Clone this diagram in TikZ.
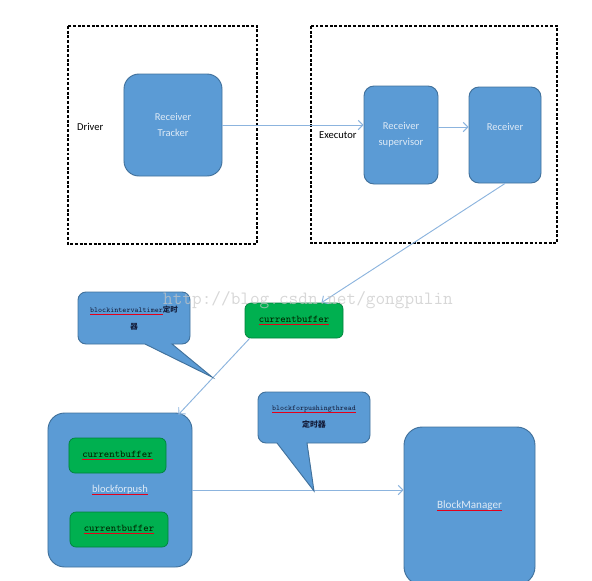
\documentclass[tikz,border=0pt]{standalone}
\usepackage{fontspec}
\setmainfont{Carlito}
\newfontfamily\cjk{Noto Sans CJK SC}
\usepackage{tikz}
\usetikzlibrary{calc, positioning, arrows.meta}
\definecolor{boxBlue}{RGB}{91, 155, 213}
\definecolor{boxEdge}{RGB}{65, 113, 156}
\definecolor{bufGreen}{RGB}{0, 176, 80}
\definecolor{bufEdge}{RGB}{0, 130, 60}
\definecolor{linkBlue}{RGB}{140, 180, 222}
\definecolor{labelLight}{RGB}{222, 234, 246}
\definecolor{noteText}{RGB}{20, 30, 60}
\newsavebox{\spellbox}
\newcommand{\spell}[1]{\sbox{\spellbox}{#1}%
  \rlap{\color{red!60!purple}\rule[-1.6pt]{\wd\spellbox}{0.3pt}}\usebox{\spellbox}}

\begin{document}
\begin{tikzpicture}[x=0.03cm, y=-0.03cm, >={Straight Barb[length=4pt, width=8pt]},
  font=\fontsize{9}{13.6}\selectfont,
  block/.style={draw=boxEdge, line width=0.8pt, fill=boxBlue, rounded corners=0.3cm,
    text=labelLight, align=center, inner sep=0pt},
  buffer/.style={draw=bufEdge, line width=0.6pt, fill=bufGreen, rounded corners=0.18cm,
    minimum width=2.94cm, minimum height=1.05cm, text=black!85!green,
    font=\ttfamily\fontsize{8.8}{10}\selectfont},
  region/.style={draw=black, line width=0.9pt, dash pattern=on 2.5pt off 1.5pt},
  note/.style={draw=boxEdge, line width=0.8pt, fill=boxBlue},
  notetext/.style={text=noteText, align=center, font=\fontsize{6.5}{14.5}\selectfont},
  link/.style={->, linkBlue, line width=0.8pt}]

  \useasboundingbox (0,0) rectangle (592,580);
  \clip (0,0) rectangle (592,580);

  % Driver and Executor regions
  \draw[region] (68,26) rectangle (257,244);
  \draw[region] (311,26) rectangle (557,243);
  \node[anchor=west] (driver) at (73,127) {Driver};
  \node[anchor=west] (executor) at (315,135) {Executor};

  \node[block, rounded corners=0.45cm, minimum width=2.94cm, minimum height=3.06cm] (tracker) at (173,125) {Receiver\\Tracker};
  \node[block, minimum width=2.22cm, minimum height=2.94cm] (sup) at (401,135) {Receiver\\supervisor};
  \node[block, minimum width=2.16cm, minimum height=2.88cm] (recv) at (505,135) {};
  \node[text=labelLight] (recvtxt) at (505,127) {Receiver};

  % buffers and blocks
  \node[buffer] (buf) at (294,320.5) {\spell{currentbuffer}};
  \node[block, rounded corners=0.5cm, minimum width=4.32cm, minimum height=4.62cm] (bfp) at (120,490) {\spell{blockforpush}};
  \node[buffer, minimum width=2.91cm] (bufA) at (117.5,455.5) {\spell{currentbuffer}};
  \node[buffer] (bufB) at (119,529.5) {\spell{currentbuffer}};
  \node[block, rounded corners=0.55cm, minimum width=3.93cm, minimum height=4.74cm,
    font=\fontsize{9.5}{12}\selectfont] (bm) at (469.5,506) {\spell{BlockManager}};

  \draw[link] (tracker.east) -- (tracker.east -| sup.west);
  \draw[link] (recvtxt -| sup.east) -- (recvtxt -| recv.west);
  \draw[link] (recv.south) -- (buf);
  \draw[link] ($(buf.south west)+(5,0)$) -- ($(bfp.north east)+(-14,2)$);
  \draw[link] (bfp.east) -- (bfp.east -| bm.west);

  % timer notes
  \coordinate (tip1) at (212,377);
  \coordinate (tip2) at (314,491);
  \draw[note] (tip1) -- (145,344) [rounded corners=0.24cm] -- (78,344) -- (78,292)
    -- (190,292) -- (190,344) [sharp corners] -- (172,344) -- cycle;
  \node[notetext] (note1) at (134,318)
    {{\ttfamily\spell{blockintervaltimer}}{\cjk\bfseries\fontsize{6.4}{14.5}\selectfont 定时}\\{\cjk\bfseries\fontsize{6.4}{14.5}\selectfont 器}};
  \draw[note] (tip2) -- (277,443) [rounded corners=0.24cm] -- (258,443) -- (258,392)
    -- (370,392) -- (370,443) [sharp corners] -- (307,443) -- cycle;
  \node[notetext, font=\fontsize{6.4}{14.5}\selectfont] (note2) at (314,417.5)
    {{\ttfamily\spell{blockforpushingthread}}\\{\cjk\bfseries\fontsize{6.8}{14.5}\selectfont 定时器}};

  % watermark
  \node[font=\ttfamily\fontsize{16}{16}\selectfont, text=gray!45, opacity=0.7] (mark) at (308,300) {http://blog.csdn.net/gongpulin};
\end{tikzpicture}
\end{document}
